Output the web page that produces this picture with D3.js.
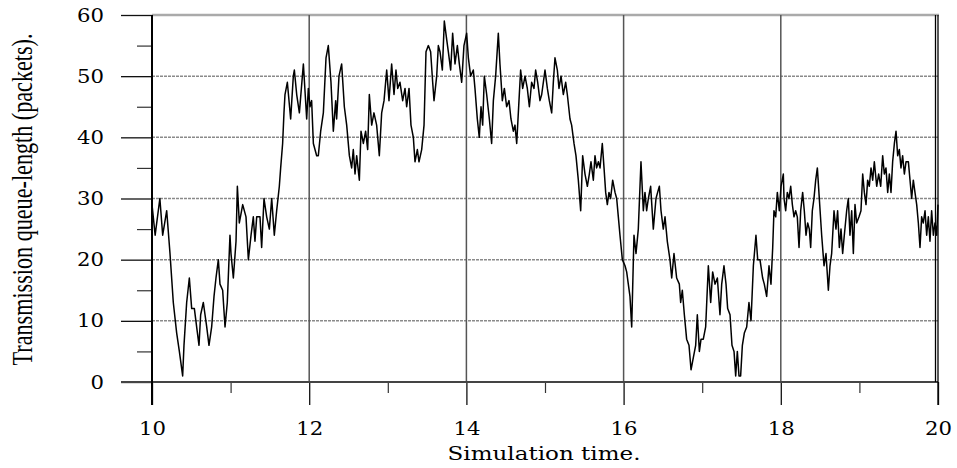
<!DOCTYPE html>
<html>
<head>
<meta charset="utf-8">
<style type="text/css">

  body{
    margin: 0;
    background: white;
  }

  .tick text{
    font-family: 'DejaVu Serif';
    font-size: 19px;
    fill: black;
  }

  .axisTitle{
    fill: black;
  }

</style>
</head>
<body>

<script src="https://cdnjs.cloudflare.com/ajax/libs/d3/7.8.5/d3.min.js" type="text/javascript"></script>

<svg id="chart" width="957" height="468"></svg>

<script>

// queue length, simulation time 10..20
var simTime = [
  10.000,10.040,10.100,10.136,10.187,10.229,10.271,10.314,10.348,10.390,
  10.407,10.441,10.475,10.505,10.539,10.568,10.598,10.619,10.653,10.696,
  10.725,10.759,10.789,10.814,10.844,10.865,10.899,10.929,10.958,10.992,
  11.005,11.035,11.069,11.086,11.111,11.154,11.196,11.226,11.260,11.289,
  11.310,11.332,11.374,11.395,11.425,11.459,11.493,11.523,11.556,11.586,
  11.620,11.637,11.662,11.679,11.692,11.722,11.764,11.798,11.811,11.841,
  11.875,11.926,11.968,11.989,12.010,12.031,12.053,12.095,12.116,12.146,
  12.180,12.214,12.243,12.277,12.307,12.337,12.349,12.379,12.413,12.447,
  12.477,12.511,12.540,12.561,12.583,12.604,12.638,12.659,12.689,12.718,
  12.744,12.765,12.795,12.824,12.858,12.892,12.922,12.952,12.986,13.015,
  13.049,13.079,13.104,13.126,13.155,13.189,13.219,13.240,13.270,13.295,
  13.325,13.346,13.376,13.397,13.431,13.461,13.486,13.516,13.545,13.571,
  13.588,13.622,13.643,13.664,13.694,13.719,13.749,13.770,13.800,13.825,
  13.855,13.885,13.910,13.940,13.969,14.003,14.025,14.054,14.088,14.109,
  14.139,14.164,14.186,14.207,14.228,14.258,14.292,14.321,14.343,14.372,
  14.406,14.427,14.457,14.483,14.512,14.542,14.567,14.597,14.618,14.640,
  14.669,14.690,14.716,14.746,14.775,14.801,14.830,14.860,14.881,14.907,
  14.936,14.958,15.000,15.030,15.055,15.085,15.106,15.127,15.157,15.178,
  15.204,15.233,15.263,15.284,15.318,15.339,15.369,15.394,15.424,15.454,
  15.479,15.509,15.539,15.564,15.585,15.615,15.636,15.657,15.679,15.700,
  15.729,15.751,15.772,15.793,15.814,15.835,15.861,15.891,15.912,15.933,
  15.954,15.984,16.018,16.039,16.060,16.081,16.103,16.132,16.158,16.187,
  16.221,16.251,16.272,16.293,16.315,16.344,16.378,16.412,16.433,16.455,
  16.476,16.505,16.527,16.556,16.590,16.612,16.641,16.675,16.709,16.726,
  16.747,16.773,16.802,16.832,16.858,16.887,16.917,16.938,16.964,16.985,
  17.014,17.044,17.078,17.108,17.133,17.163,17.193,17.226,17.248,17.277,
  17.303,17.324,17.354,17.379,17.405,17.426,17.447,17.468,17.489,17.511,
  17.536,17.566,17.595,17.621,17.651,17.684,17.706,17.735,17.769,17.790,
  17.820,17.850,17.875,17.897,17.913,17.935,17.956,17.981,18.003,18.032,
  18.041,18.062,18.083,18.104,18.126,18.147,18.168,18.189,18.210,18.232,
  18.253,18.278,18.299,18.321,18.342,18.363,18.380,18.401,18.422,18.444,
  18.465,18.490,18.520,18.550,18.575,18.605,18.626,18.647,18.677,18.702,
  18.723,18.745,18.766,18.787,18.808,18.838,18.859,18.880,18.902,18.923,
  18.944,18.965,18.995,19.020,19.042,19.063,19.084,19.105,19.126,19.148,
  19.169,19.190,19.220,19.245,19.271,19.296,19.317,19.338,19.360,19.381,
  19.402,19.423,19.445,19.466,19.487,19.508,19.529,19.550,19.572,19.593,
  19.623,19.644,19.665,19.686,19.707,19.729,19.750,19.771,19.792,19.813,
  19.835,19.856,19.877,19.898,19.919,19.941,19.962,19.983,20.000
];

var queueLen = [
  29,24,30,24,28,21,13,8,5,1,
  6,13,17,12,12,9,6,11,13,9,
  6,9,14,17,20,16,15,9,13,24,
  21,17,23,32,26,29,27,20,24,27,
  23,27,27,22,30,27,25,30,24,28,
  32,35,39,44,47,49,43,50,51,47,
  44,52,43,48,45,46,39,37,37,41,
  44,53,55,49,41,46,43,50,52,45,
  42,37,35,38,34,37,33,41,39,41,
  38,47,42,44,42,37,44,46,51,46,
  52,47,51,48,49,46,48,45,48,42,
  40,36,38,36,38,42,54,55,54,49,
  46,50,55,54,51,59,56,54,51,57,
  52,55,52,49,55,57,53,50,51,48,
  43,40,45,42,50,47,43,39,46,50,
  57,52,46,48,45,46,43,41,42,39,
  46,51,48,50,48,45,49,48,51,49,
  46,47,51,48,46,44,49,53,51,48,
  50,47,49,47,43,42,39,37,33,28,
  37,34,32,34,36,33,37,35,36,35,
  39,35,31,29,31,30,33,31,30,27,
  24,20,19,18,16,14,9,24,21,25,
  36,28,31,28,30,32,25,30,31,32,
  28,25,27,23,20,17,21,17,16,13,
  15,11,7,6,2,4,6,11,5,7,
  7,9,19,13,18,16,17,11,16,19,
  16,12,11,6,5,1,5,1,1,6,
  8,9,13,10,19,24,20,20,17,16,
  14,19,16,22,28,27,31,28,32,34,
  30,28,31,30,32,29,27,28,27,22,
  28,31,28,24,26,25,22,28,30,33,
  35,30,24,19,21,15,19,21,28,25,
  28,22,25,21,24,28,30,24,28,21,
  29,26,27,28,34,31,29,33,32,35,
  33,36,32,34,32,37,34,35,31,34,
  31,36,39,41,37,38,35,37,34,36,
  36,33,30,33,31,29,26,22,27,26,
  28,24,27,23,28,24,26,24,29
];

var xTicks = [10, 12, 14, 16, 18, 20];
var xMinorTicks = [11, 13, 15, 17, 19];
var yTicks = [0, 10, 20, 30, 40, 50, 60];
var yMinorTicks = [5, 15, 25, 35, 45, 55];

var xLabel = "Simulation time.";
var yLabel = "Transmission queue-length (packets).";

// plot box (window.top is read-only, so own names)
var plotLeft = 152, plotRight = 938, plotTop = 15, plotBottom = 382;

var svg = d3.select("#chart");

var x = d3.scaleLinear().domain([10, 20]).range([plotLeft, plotRight]);
var y = d3.scaleLinear().domain([0, 60]).range([plotBottom, plotTop]);

var data = simTime.map(function(t, i) { return { t: t, q: queueLen[i] }; });

// horizontal grid
svg.append("g")
  .selectAll("line")
  .data(yTicks.filter(function(d) { return d > 0 && d < 60; }))
  .enter()
  .append("line")
  .attr("x1", plotLeft).attr("x2", plotRight)
  .attr("y1", function(d) { return y(d); })
  .attr("y2", function(d) { return y(d); })
  .attr("stroke", "#8a8a8a")
  .attr("stroke-width", 1.5)
  .attr("stroke-dasharray", "3,1");

// top edge (60)
svg.append("line")
  .attr("x1", plotLeft).attr("x2", plotRight + 1)
  .attr("y1", y(60)).attr("y2", y(60))
  .attr("stroke", "#aaa")
  .attr("stroke-width", 2.5);

// vertical grid
svg.append("g")
  .selectAll("line")
  .data(xTicks.filter(function(d) { return d > 10 && d < 20; }))
  .enter()
  .append("line")
  .attr("x1", function(d) { return x(d); })
  .attr("x2", function(d) { return x(d); })
  .attr("y1", plotTop).attr("y2", plotBottom)
  .attr("stroke", "#555")
  .attr("stroke-width", 1.5);

// y axis, major + minor ticks
var yAxis = svg.append("g")
  .attr("transform", "translate(" + plotLeft + ",0)")
  .call(d3.axisLeft(y).tickValues(yTicks).tickSize(31).tickPadding(17));

yAxis.selectAll(".tick line").attr("stroke", "#111").attr("stroke-width", 1.3);
yAxis.selectAll(".tick text")
  .attr("textLength", function(d) { return String(d).length * 13.5; })
  .attr("lengthAdjust", "spacingAndGlyphs");

var yMinor = svg.append("g")
  .attr("transform", "translate(" + plotLeft + ",0)")
  .call(d3.axisLeft(y).tickValues(yMinorTicks).tickSize(15).tickFormat(""));

yMinor.selectAll(".tick line").attr("stroke", "#333").attr("stroke-width", 1.2);

// x axis, major + minor ticks
var xAxis = svg.append("g")
  .attr("transform", "translate(0," + plotBottom + ")")
  .call(d3.axisBottom(x).tickValues(xTicks).tickSize(23).tickPadding(17));

xAxis.selectAll(".tick line").attr("stroke", "#111").attr("stroke-width", 1.3);
xAxis.selectAll(".tick text")
  .attr("textLength", function(d) { return String(d).length * 13.5; })
  .attr("lengthAdjust", "spacingAndGlyphs");

var xMinor = svg.append("g")
  .attr("transform", "translate(0," + plotBottom + ")")
  .call(d3.axisBottom(x).tickValues(xMinorTicks).tickSize(11).tickFormat(""));

xMinor.selectAll(".tick line").attr("stroke", "#333").attr("stroke-width", 1.2);

svg.selectAll(".domain").remove();

// frame lines
svg.append("line")
  .attr("x1", plotLeft - 31).attr("x2", plotRight)
  .attr("y1", plotBottom).attr("y2", plotBottom)
  .attr("stroke", "#444")
  .attr("stroke-width", 2);

svg.append("line")
  .attr("x1", plotLeft).attr("x2", plotLeft)
  .attr("y1", plotTop).attr("y2", plotBottom + 23)
  .attr("stroke", "black")
  .attr("stroke-width", 2);

svg.append("line")
  .attr("x1", plotRight - 2.5).attr("x2", plotRight - 2.5)
  .attr("y1", plotTop).attr("y2", plotBottom)
  .attr("stroke", "black")
  .attr("stroke-width", 1.3);

svg.append("line")
  .attr("x1", plotRight).attr("x2", plotRight)
  .attr("y1", plotTop).attr("y2", plotBottom + 23)
  .attr("stroke", "black")
  .attr("stroke-width", 1.3);

// the queue trace
var line = d3.line()
  .x(function(d) { return x(d.t); })
  .y(function(d) { return y(d.q); });

svg.append("path")
  .datum(data)
  .attr("fill", "none")
  .attr("stroke", "black")
  .attr("stroke-width", 1.5)
  .attr("stroke-linejoin", "round")
  .attr("d", line);

// titles
svg.append("text")
  .attr("class", "axisTitle")
  .attr("x", (plotLeft + plotRight) / 2 - 1)
  .attr("y", 460)
  .attr("text-anchor", "middle")
  .attr("font-family", "DejaVu Serif")
  .attr("font-size", 19)
  .attr("textLength", 193)
  .attr("lengthAdjust", "spacingAndGlyphs")
  .text(xLabel);

svg.append("text")
  .attr("class", "axisTitle")
  .attr("transform", "translate(32," + ((plotTop + plotBottom) / 2 + 1) + ") rotate(-90) scale(1,1.37)")
  .attr("text-anchor", "middle")
  .attr("font-family", "Liberation Serif")
  .attr("font-size", 21)
  .attr("textLength", 332)
  .attr("lengthAdjust", "spacingAndGlyphs")
  .text(yLabel);

</script>

</body>
</html>
